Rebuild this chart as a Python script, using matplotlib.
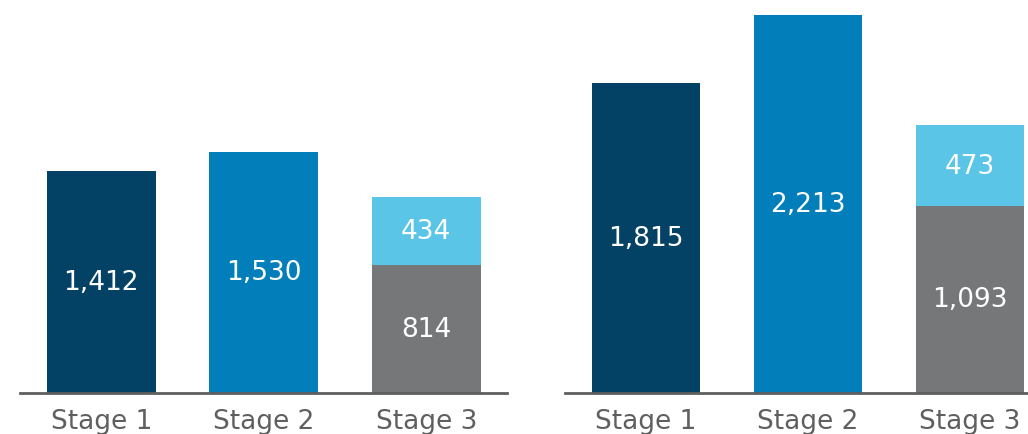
import os
import matplotlib
import matplotlib.pyplot as plt
from matplotlib.font_manager import FontProperties

ttf = os.path.join(matplotlib.get_data_path(), 'fonts', 'ttf', 'DejaVuSans.ttf')
fp_big = FontProperties(fname=ttf, size=19)

stages = ['Stage 1', 'Stage 2', 'Stage 3']

# left panel
left_single = [1412, 1530]
left_grey = 814
left_light = 434

# right panel
right_single = [1815, 2213]
right_grey = 1093
right_light = 473

navy = '#034165'
blue = '#027eba'
light = '#5bc5e7'
grey = '#767779'

fig = plt.figure(figsize=(10.28, 4.35), dpi=100)
W, H = 1028, 435
base = (H - 393.5) / H
ax_h = 393.5 / H
ax1 = fig.add_axes([20 / W, base, 487.5 / W, ax_h])
ax2 = fig.add_axes([565 / W, base, 463 / W, ax_h])


def draw(ax, singles, g, lb, ymax, xmax):
    bw = 0.67
    b1 = ax.bar([0, 1], singles, width=bw, color=[navy, blue])
    b2 = ax.bar([2], [g], width=bw, color=grey)
    b3 = ax.bar([2], [lb], bottom=[g], width=bw, color=light)
    for bars in (b1, b2, b3):
        for r in bars:
            ax.text(r.get_x() + r.get_width() / 2, r.get_y() + r.get_height() / 2,
                    f'{int(r.get_height()):,}', ha='center', va='center',
                    color='white', fontproperties=fp_big)
    ax.set_xlim(-0.5, xmax)
    ax.set_ylim(0, ymax)
    ax.set_xticks([0, 1, 2])
    ax.set_xticklabels(stages, fontproperties=fp_big, color='#5f5f5f')
    ax.tick_params(axis='x', length=0, pad=11)
    ax.set_yticks([])
    for s in ['top', 'left', 'right']:
        ax.spines[s].set_visible(False)
    ax.spines['bottom'].set_color('#5f5f5f')
    ax.spines['bottom'].set_linewidth(2)


draw(ax1, left_single, left_grey, left_light, 393.5 / 0.157, 2.5)
draw(ax2, right_single, right_grey, right_light, 393.5 / 0.1707, 2.357)

fig.savefig('out.png', dpi=100)
